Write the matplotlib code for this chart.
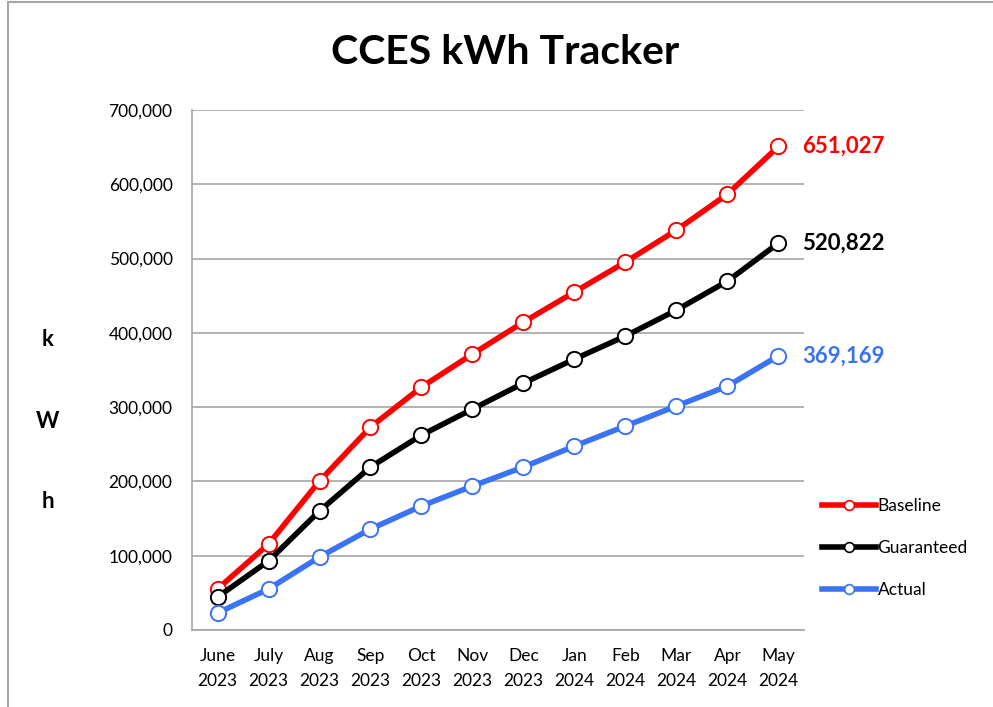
import matplotlib.pyplot as plt
import numpy as np
from matplotlib.ticker import FuncFormatter
from matplotlib.patches import Rectangle
from matplotlib.lines import Line2D

months = ["June\n2023", "July\n2023", "Aug\n2023", "Sep\n2023", "Oct\n2023", "Nov\n2023",
          "Dec\n2023", "Jan\n2024", "Feb\n2024", "Mar\n2024", "Apr\n2024", "May\n2024"]
baseline = [55200, 115700, 200500, 273200, 327000, 371500, 414500, 455000, 495300, 538400, 586800, 651027]
guaranteed = [44400, 92900, 160200, 219400, 262400, 297400, 332400, 364700, 395700, 430700, 469700, 520822]
actual = [22900, 55200, 98250, 135900, 166900, 193800, 219400, 247600, 274600, 301500, 328400, 369169]

plt.rcParams['font.family'] = ['Lato', 'DejaVu Sans']

fig = plt.figure(figsize=(9.93, 7.07), dpi=100)
ax = fig.add_axes([192/993, 1-630/707, (804-192)/993, (630-110)/707])

# outer chart border
fig.patches.append(Rectangle((8/993, -0.1), 1.2, 1.1 - 2/707, transform=fig.transFigure,
                             fill=False, edgecolor='#a6a6a6', linewidth=1.5))

x = np.arange(len(months))
series = [("Baseline", baseline, "#ff0000"),
          ("Guaranteed", guaranteed, "#000000"),
          ("Actual", actual, "#3b73f5")]
handles = []
for name, vals, col in series:
    ax.plot(x, vals, color=col, lw=4, marker='o', ms=11, mfc='white', mec=col, mew=1.4, zorder=3)
    ax.annotate(f"{vals[-1]:,}", (x[-1], vals[-1]), xytext=(17, 0), textcoords='offset points',
                color=col, fontsize=16, fontweight='bold', va='center', ha='left',
                annotation_clip=False)
    handles.append(Line2D([], [], color=col, lw=4, marker='o', ms=7, mfc='white', mec=col,
                          mew=1.2, label=name))

ax.set_xlim(-0.5, 11.5)
ax.set_ylim(0, 700000)
ax.set_yticks(np.arange(0, 700001, 100000))
ax.yaxis.set_major_formatter(FuncFormatter(lambda v, p: f"{int(v):,}"))
ax.set_xticks(x)
ax.set_xticklabels(months, linespacing=1.7)
ax.tick_params(axis='both', length=0, labelsize=12.5)
ax.tick_params(axis='y', pad=14)
ax.tick_params(axis='x', pad=13)
ax.grid(axis='y', color='#a6a6a6', lw=1.2)
ax.set_axisbelow(True)
for s in ['top', 'right']:
    ax.spines[s].set_visible(False)
for s in ['left', 'bottom']:
    ax.spines[s].set_color('#a6a6a6')
    ax.spines[s].set_linewidth(1.2)

fig.text(0.509, 1-52/707, "CCES kWh Tracker", ha='center', va='center', fontsize=29.5, fontweight='bold')
for ch, yp in [("k", 340), ("W", 421), ("h", 501)]:
    fig.text(48/993, 1-yp/707, ch, ha='center', va='center', fontsize=16, fontweight='bold')

leg = fig.legend(handles=handles, loc='center left', bbox_to_anchor=(822/993, 1-548/707),
                 frameon=False, fontsize=12.5, handlelength=3.1, handletextpad=0.1,
                 labelspacing=1.5, borderaxespad=0, borderpad=0)

fig.savefig("out.png", dpi=100)
